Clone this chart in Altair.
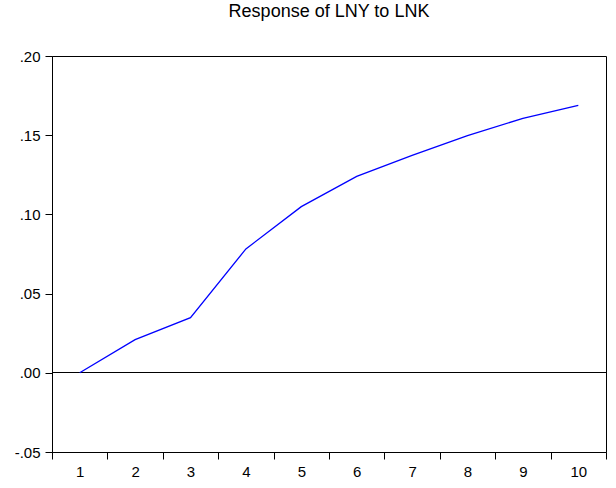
import altair as alt
import pandas as pd

# Impulse response of LNY to a shock in LNK, periods 1..10
periods = [1, 2, 3, 4, 5, 6, 7, 8, 9, 10]
response = [0.0, 0.0209, 0.0348, 0.0782, 0.1049, 0.1240, 0.1372, 0.1498, 0.1606, 0.1688]
y_ticks = [-0.05, 0.0, 0.05, 0.10, 0.15, 0.20]

df = pd.DataFrame({"period": periods, "response": response})

FONT = "Liberation Sans, Arial, sans-serif"

# labels like ".20" / "-.05" (no leading zero)
y_label_expr = (
    "datum.value < -0.0001 ? '-' + substring(format(-datum.value, '.2f'), 1) "
    ": substring(format(abs(datum.value), '.2f'), 1)"
)

x_enc = alt.X(
    "period:O",
    scale=alt.Scale(type="band", paddingInner=0, paddingOuter=0),
    bandPosition=0.5,
    axis=alt.Axis(
        title=None,
        labelAngle=0,
        tickBand="extent",
        tickSize=7,
        labelPadding=5,
        labelFontSize=15,
        labelFont=FONT,
        labelColor="black",
        domainColor="black",
        tickColor="black",
        grid=False,
    ),
)

y_scale = alt.Scale(domain=[-0.05, 0.20], nice=False, zero=False)

line = (
    alt.Chart(df)
    .mark_line(color="#0000FF", strokeWidth=1.3)
    .encode(
        x=x_enc,
        y=alt.Y(
            "response:Q",
            scale=y_scale,
            axis=alt.Axis(
                title=None,
                values=y_ticks,
                labelExpr=y_label_expr,
                tickSize=7,
                labelPadding=5,
                labelFontSize=15,
                labelFont=FONT,
                labelColor="black",
                domainColor="black",
                tickColor="black",
                grid=False,
            ),
        ),
    )
)

zero_line = (
    alt.Chart(df)
    .mark_rule(color="black", strokeWidth=1, yOffset=-0.3)
    .encode(y=alt.datum(0, scale=y_scale))
)

chart = (
    alt.layer(zero_line, line)
    .properties(
        width=554,
        height=396,
        title=alt.TitleParams(
            "Response of LNY to LNK",
            font=FONT,
            fontSize=18,
            fontWeight="normal",
            color="black",
            anchor="middle",
            offset=28,
        ),
        autosize=alt.AutoSizeParams(type="none"),
        padding={"left": 52, "top": 56, "right": 10, "bottom": 40},
    )
    .configure(background="white")
    .configure_view(stroke="black", strokeWidth=1)
)

chart.save("out.html", embed_options={"renderer": "svg", "actions": False})
